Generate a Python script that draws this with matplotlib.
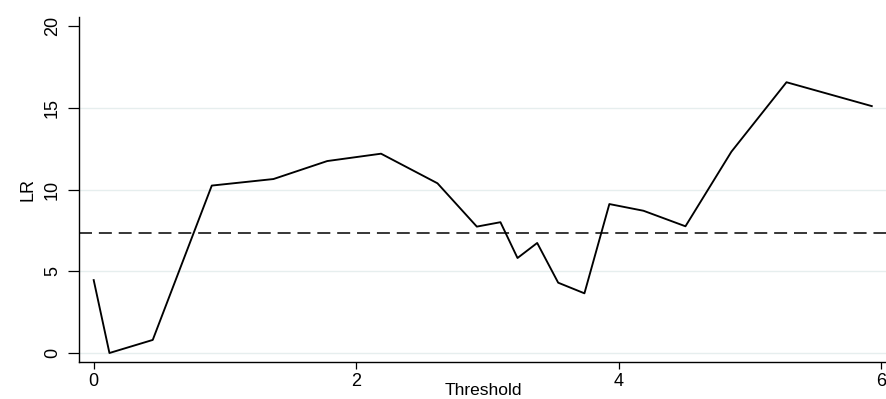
import matplotlib
matplotlib.use("Agg")
import matplotlib.pyplot as plt

threshold = [0.0, 0.12, 0.45, 0.90, 1.37, 1.78, 2.19, 2.62, 2.92, 3.10, 3.23, 3.38,
             3.54, 3.74, 3.93, 4.19, 4.51, 4.86, 5.28, 5.93]
lr = [4.46, 0.0, 0.8, 10.24, 10.64, 11.74, 12.19, 10.38, 7.73, 8.0, 5.81, 6.73,
      4.3, 3.65, 9.11, 8.7, 7.75, 12.31, 16.56, 15.1]
critical = 7.36
xticks = [0, 2, 4, 6]
yticks = [0, 5, 10, 15, 20]

plt.rcParams['font.family'] = ['Liberation Sans', 'DejaVu Sans']
fig = plt.figure(figsize=(8.87, 3.99), dpi=100)
ax = fig.add_axes([79/887, 37/399, 1 - 79/887, (362-17)/399])

for g in [0, 5, 10, 15]:
    ax.axhline(g, color='#e6eeee', lw=1.0, zorder=0)

ax.plot(threshold, lr, color='black', lw=1.35, zorder=3)
ax.axhline(critical, color='black', lw=1.1, dashes=(8.5, 4.5), zorder=2)

ax.set_xlim(-0.112, 6.046)
ax.set_ylim(-0.55, 20.55)
ax.set_xticks(xticks)
ax.set_yticks(yticks)
ax.set_xticklabels([str(t) for t in xticks], fontsize=13)
ax.set_yticklabels([str(t) for t in yticks], fontsize=13, rotation=90, va='center')
ax.tick_params(axis='y', length=8, width=0.9, pad=5)
ax.tick_params(axis='x', length=5, width=0.9, pad=3)

for s in ['top', 'right']:
    ax.spines[s].set_visible(False)
for s in ['left', 'bottom']:
    ax.spines[s].set_linewidth(1.0)

ax.set_xlabel('Threshold', fontsize=12.5, labelpad=-5)
ax.set_ylabel('LR', fontsize=13, labelpad=5)

fig.savefig('out.png', dpi=100)
